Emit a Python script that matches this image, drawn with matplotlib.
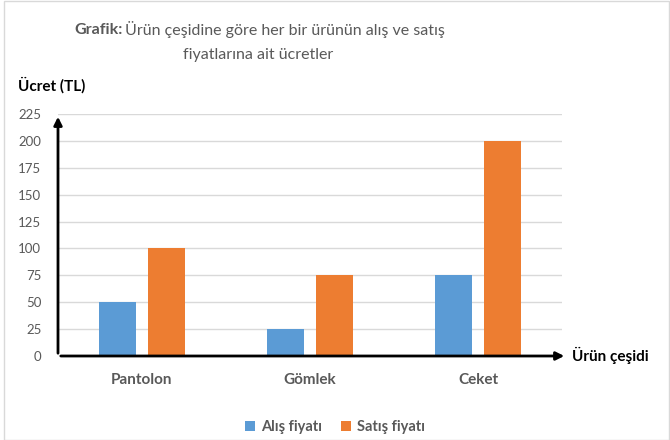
import matplotlib
matplotlib.use("Agg")
from matplotlib import pyplot as plt
from matplotlib.patches import Rectangle
import numpy as np

plt.rcParams['font.family'] = ['Lato', 'DejaVu Sans']

urunler = ['Pantolon', 'Gömlek', 'Ceket']
alis = [50, 25, 75]
satis = [100, 75, 200]
y_ticks = [0, 25, 50, 75, 100, 125, 150, 175, 200, 225]

mavi = '#5b9bd5'
turuncu = '#ed7d31'
gri = '#595959'

fig = plt.figure(figsize=(6.7, 4.4), dpi=100)
ax = fig.add_axes([58/670, 84/440, 504/670, 242/440])

x = np.arange(len(urunler))
ax.bar(x - 0.143, alis, width=0.22, color=mavi, label='Alış fiyatı', zorder=3)
ax.bar(x + 0.143, satis, width=0.22, color=turuncu, label='Satış fiyatı', zorder=3)

ax.set_xlim(-0.5, 2.5)
ax.set_ylim(0, 225)
ax.set_yticks(y_ticks)
ax.set_xticks(x)
ax.set_xticklabels(urunler, fontsize=11, fontweight='bold', color=gri)
ax.tick_params(axis='y', labelsize=9.5, colors=gri, length=0, pad=12)
ax.tick_params(axis='x', length=0, pad=12)
ax.grid(axis='y', color='#d9d9d9', linewidth=1, zorder=0)
for s in ax.spines.values():
    s.set_visible(False)

# eksen okları
ax.annotate('', xy=(0, 1.0), xytext=(0, 0), xycoords='axes fraction',
            arrowprops=dict(arrowstyle='-|>', color='black', lw=2, mutation_scale=12),
            annotation_clip=False, zorder=5)
ax.annotate('', xy=(1.01, 0), xytext=(0, 0), xycoords='axes fraction',
            arrowprops=dict(arrowstyle='-|>', color='black', lw=2, mutation_scale=12),
            annotation_clip=False, zorder=5)

fig.text(18/670, 1 - 85/440, 'Ücret (TL)', fontsize=11, fontweight='bold', va='center')
fig.text(572/670, 1 - 355/440, 'Ürün çeşidi', fontsize=11, fontweight='bold', va='center')

# başlık: kalın + normal
fig.canvas.draw()
r = fig.canvas.get_renderer()
t1 = fig.text(74/670, 1 - 30/440, 'Grafik:', fontsize=11.5, fontweight='bold', color=gri, va='center')
w = t1.get_window_extent(r).width
fig.text((74 + w + 3)/670, 1 - 30/440, 'Ürün çeşidine göre her bir ürünün alış ve satış',
         fontsize=11.5, color=gri, va='center')
fig.text(258/670, 1 - 55/440, 'fiyatlarına ait ücretler', fontsize=11.5, color=gri,
         va='center', ha='center')

leg = fig.legend(loc='center', bbox_to_anchor=(335/670, 1 - 427/440), ncol=2, frameon=False,
                 prop={'size': 10.5, 'weight': 'bold'}, labelcolor=gri, handlelength=0.7,
                 handleheight=0.7, handletextpad=0.4, columnspacing=1.3)

fig.patches.append(Rectangle((4/670, 0), 1 - 5/670, 1 - 1/440, transform=fig.transFigure,
                             fill=False, edgecolor='#d9d9d9', lw=1))

fig.savefig('out.png', dpi=100)
